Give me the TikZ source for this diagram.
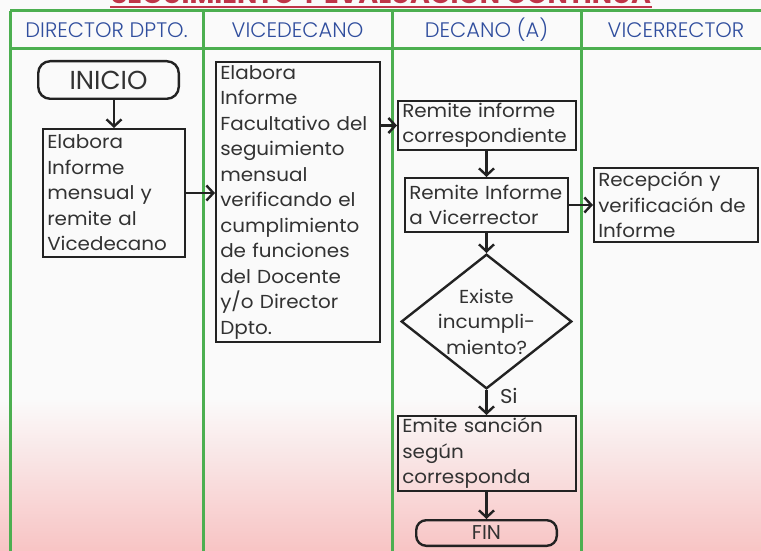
\documentclass[tikz,border=0pt]{standalone}
\usepackage{fontspec}
\setmainfont[FakeStretch=1.06]{Poppins}
\newfontfamily\headfont{Poppins Light}
\newfontfamily\titlefont{Poppins}
\usetikzlibrary{shapes.geometric,arrows.meta}

\definecolor{lanegreen}{RGB}{76,175,80}
\definecolor{headblue}{RGB}{48,78,158}
\definecolor{boxline}{RGB}{34,34,34}
\definecolor{txtgray}{RGB}{50,50,50}
\definecolor{titlered}{RGB}{192,52,72}
\definecolor{bgtop}{RGB}{250,250,250}
\definecolor{bgpink}{RGB}{248,196,196}

\tikzset{
  lane/.style={draw=lanegreen, line width=3pt},
  lanehead/.style={text=headblue, font=\headfont\fontsize{21}{23}\selectfont},
  proc/.style={draw=boxline, line width=2.4pt, inner xsep=4pt, inner ysep=1pt,
    align=left, text=txtgray, font=\fontsize{18.8}{25.5}\selectfont},
  term/.style={draw=boxline, line width=2.4pt, rounded corners=12pt, text=txtgray},
  decision/.style={diamond, draw=boxline, line width=2.4pt, inner sep=0pt,
    minimum width=170.6pt, minimum height=134.6pt},
  flow/.style={draw=boxline, line width=2.4pt, -{Straight Barb[length=7pt,width=15pt]}}
}

\begin{document}
\begin{tikzpicture}[x=1pt,y=-1pt]
\useasboundingbox (0,0) rectangle (761,551);
\clip (0,0) rectangle (761,551);
\fill[bgtop] (0,0) rectangle (761,551);
\shade[top color=bgtop, bottom color=bgpink] (0,400) rectangle (761,551);

% title (cut at the top)
\node[anchor=base, text=titlered, font=\titlefont\bfseries\fontsize{27}{28}\selectfont] (title) at (381,3.5) {SEGUIMIENTO Y EVALUACIÓN CONTINUA};
\draw[titlered, line width=2pt] (110,7.5) -- (652,7.5);

% lanes
\draw[lane] (10,11) -- (761,11);
\draw[lane] (10,49) -- (761,49);
\draw[lane] (10,11) -- (10,551);
\draw[lane] (203,11) -- (203,551);
\draw[lane] (392,11) -- (392,551);
\draw[lane] (581,11) -- (581,551);

\node[lanehead] (h1) at (106.5,30) {DIRECTOR DPTO.};
\node[lanehead] (h2) at (297.5,30) {VICEDECANO};
\node[lanehead] (h3) at (486.5,30) {DECANO (A)};
\node[lanehead] (h4) at (676,30) {VICERRECTOR};

% boxes
\node[term, minimum width=140.6pt, minimum height=37.6pt, font=\titlefont\fontsize{26}{28}\selectfont] (inicio) at (108.5,80) {INICIO};
\node[proc, text width=133.5pt, minimum height=127.6pt] (elabora) at (114,193) {Elabora\\Informe\\mensual y\\remite al\\Vicedecano};
\node[proc, text width=155.5pt, minimum height=279.6pt] (facultativo) at (298,202) {Elabora\\Informe\\Facultativo del\\seguimiento\\mensual\\verificando el\\cumplimiento\\de funciones\\del Docente\\y/o Director\\Dpto.};
\node[proc, text width=169.5pt, minimum height=48.6pt] (remite) at (487,125.5) {Remite informe\\correspondiente};
\node[proc, text width=154.5pt, minimum height=53.6pt] (remitevr) at (486.5,205) {Remite Informe\\a Vicerrector};
\node[proc, text width=155.5pt, minimum height=73.6pt] (recepcion) at (676,205) {Recepción y\\verificación de\\Informe};
\node[decision] (existe) at (486.5,321.5) {};
\node[align=center, text=txtgray, font=\fontsize{18.8}{25.5}\selectfont] (existetxt) at (existe) {Existe\\incumpli-\\miento?};
\node[proc, text width=169.5pt, minimum height=74.6pt] (sancion) at (487,453.5) {Emite sanción\\según\\corresponda};
\node[term, rounded corners=10pt, minimum width=140.6pt, minimum height=25.6pt, inner sep=0pt, font=\titlefont\fontsize{20}{20}\selectfont] (fin) at (486.5,533) {FIN};

% connectors
\draw[flow] (elabora.north |- inicio.south) -- (elabora.north);
\draw[flow] (elabora.east) -- (elabora.east -| facultativo.west);
\draw[flow] (remite.west -| facultativo.east) -- (remite.west);
\draw[flow] (remitevr.north |- remite.south) -- (remitevr.north);
\draw[flow] (remitevr.east) -- (recepcion.west);
\draw[flow] (remitevr.south) -- (existe.north);
\draw[flow] (existe.south) -- node[right, pos=0.25, xshift=9pt, text=txtgray, font=\fontsize{20}{20}\selectfont] (si) {Si} (existe.south |- sancion.north);
\draw[flow] (fin.north |- sancion.south) -- (fin.north);

\end{tikzpicture}
\end{document}
